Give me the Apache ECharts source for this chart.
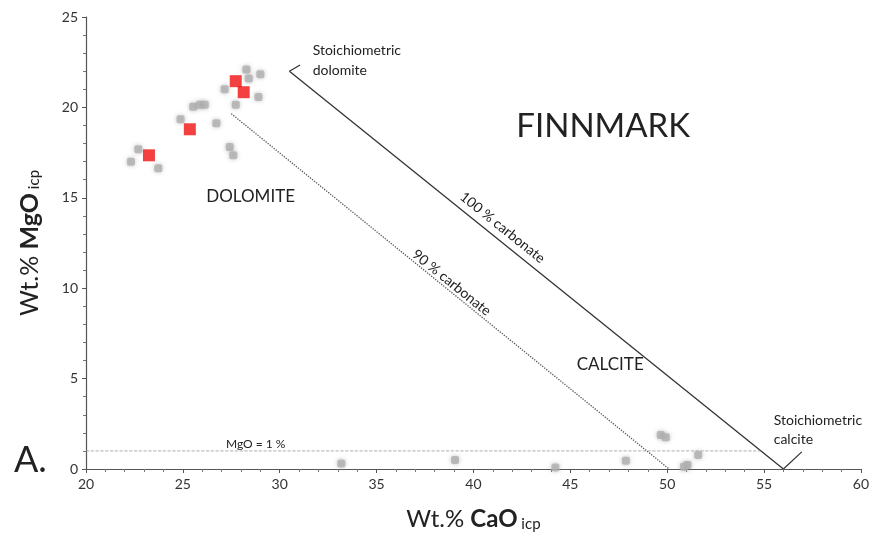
<!DOCTYPE html>
<html><head><meta charset="utf-8">
<script src="https://cdn.jsdelivr.net/npm/echarts@6/dist/echarts.min.js"></script>
<style>html,body{margin:0;padding:0;background:#fff}#c{width:872px;height:538px}</style>
</head><body><div id="c"></div>
<script>
// X tick labels and Y tick labels come from axis settings (min/max/interval)
const xTicks = [20,25,30,35,40,45,50,55,60];
const yTicks = [0,5,10,15,20,25];

// Gray sample points [CaO, MgO]
const grayPoints = [
  [28.28,22.1],[29.0,21.84],[28.4,21.6],[27.16,21.0],[28.9,20.58],[27.73,20.14],
  [25.53,20.03],[25.88,20.14],[26.13,20.14],[24.88,19.35],[26.73,19.12],
  [27.42,17.81],[27.6,17.35],[22.7,17.68],[22.32,17.0],[23.73,16.63],
  [33.18,0.31],[39.05,0.5],[44.23,0.08],[47.87,0.46],[49.67,1.88],[49.93,1.75],
  [51.05,0.22],[50.87,0.13],[51.6,0.78]
];
// Red highlighted points
const redPoints = [[23.25,17.35],[25.36,18.79],[27.73,21.45],[28.14,20.84]];

// Reference lines
const line100 = [[30.5,22.0],[56,0]];
const line90 = [[27.5,19.65],[50.1,0]];
const lineMgO1 = [[20,1],[54.8,1]];
const arrowDol = [[30.5,22.0],[31.05,22.35]];
const arrowCal = [[56,0],[56.95,0.95]];

// Annotations [text, CaO, MgO, fontSize, rotationDeg, align]
const labels = [
  ['Stoichiometric\ndolomite',31.7,22.6,14,0,'left'],
  ['FINNMARK',46.7,18.96,33,0,'center'],
  ['DOLOMITE',28.5,15.08,17,0,'center'],
  ['CALCITE',47.06,5.76,17,0,'center'],
  ['Stoichiometric\ncalcite',55.5,2.15,14,0,'left'],
  ['MgO = 1 %',28.76,1.4,12,0,'center'],
  ['100 % carbonate',41.5,13.35,14,-38.7,'center'],
  ['90 % carbonate',38.87,10.3,14,-38.9,'center']
];

const FONT = 'Lato';
const chart = echarts.init(document.getElementById('c'), null, {renderer:'canvas'});
const axisCommon = {
  axisLine:{show:true,onZero:false,lineStyle:{color:'#555',width:1.2}},
  axisTick:{show:true,inside:false,length:4,lineStyle:{color:'#555'}},
  minorTick:{show:true,splitNumber:5,length:3,lineStyle:{color:'#777'}},
  splitLine:{show:false},
  axisLabel:{color:'#333',fontSize:14,fontFamily:FONT}
};
const lineSeries = (data, type, width, color) => ({
  type:'line', data, symbol:'none', silent:true, z:1,
  lineStyle:{color, width, type}
});
chart.setOption({
  animation:false,
  textStyle:{fontFamily:FONT},
  grid:{left:86,right:10,top:17,bottom:69,containLabel:false},
  xAxis:Object.assign({type:'value',min:xTicks[0],max:xTicks[xTicks.length-1],interval:5,
    name:'{r|Wt.% }{b|CaO}{s| icp}',nameLocation:'middle',nameGap:38,
    nameTextStyle:{rich:{
      r:{fontSize:24,fontFamily:FONT,color:'#222'},
      b:{fontSize:24,fontFamily:FONT,fontWeight:'bold',color:'#222'},
      s:{fontSize:15,fontFamily:FONT,color:'#222',verticalAlign:'bottom',padding:[10,0,0,0]}}}
  },axisCommon),
  yAxis:Object.assign({type:'value',min:yTicks[0],max:yTicks[yTicks.length-1],interval:5,
    name:'{r|Wt.% }{b|MgO}{s| icp}',nameLocation:'middle',nameGap:44,nameRotate:90,
    nameTextStyle:{rich:{
      r:{fontSize:25,fontFamily:FONT,color:'#222'},
      b:{fontSize:25,fontFamily:FONT,fontWeight:'bold',color:'#222'},
      s:{fontSize:15,fontFamily:FONT,color:'#222',verticalAlign:'bottom',padding:[10,0,0,0]}}}
  },axisCommon),
  series:[
    lineSeries(line100,'solid',1.3,'#333'),
    lineSeries(line90,'dotted',1.3,'#555'),
    lineSeries(lineMgO1,'dashed',0.8,'#999'),
    lineSeries(arrowDol,'solid',1.2,'#333'),
    lineSeries(arrowCal,'solid',1.2,'#333'),
    {type:'scatter',data:grayPoints,symbol:'roundRect',symbolSize:8,z:3,
      itemStyle:{color:'#b0b0b0',opacity:0.8,shadowBlur:4,shadowColor:'rgba(150,150,150,0.7)'}},
    {type:'scatter',data:redPoints,symbol:'rect',symbolSize:12,z:4,
      itemStyle:{color:'#f01010'}}
  ]
});
const g = labels.map(([t,x,y,fs,rot,al]) => {
  const p = chart.convertToPixel({gridIndex:0},[x,y]);
  return {type:'text',x:p[0],y:p[1],rotation:rot*Math.PI/180,z:10,
    style:{text:t,fontSize:fs,fontFamily:FONT,fill:'#222',align:al,verticalAlign:'middle',lineHeight:fs*1.4}};
});
g.push({type:'text',left:14,top:442,z:10,style:{text:'A.',fontSize:36,fontFamily:FONT,fill:'#222'}});
chart.setOption({graphic:g});
</script></body></html>
